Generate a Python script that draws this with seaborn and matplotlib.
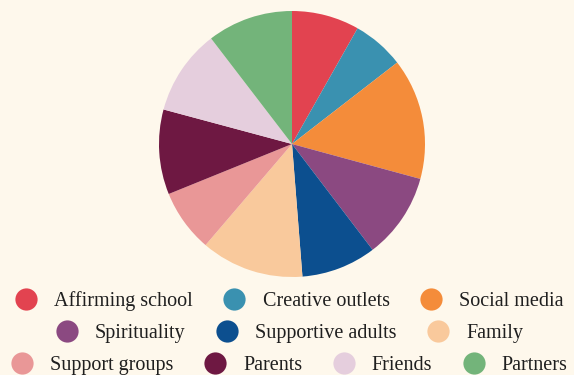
import matplotlib
matplotlib.use("Agg")
import matplotlib.pyplot as plt
from matplotlib.lines import Line2D
import seaborn as sns

categories = ["Affirming school", "Creative outlets", "Social media", "Spirituality",
              "Supportive adults", "Family", "Support groups", "Parents", "Friends", "Partners"]
values = [8.2, 6.3, 14.7, 10.4, 9.1, 12.5, 7.6, 10.3, 10.4, 10.4]
colors = ["#e24350", "#3a91b0", "#f48c3a", "#8b4981", "#0c4f8f",
          "#f9c99c", "#e99797", "#6e1842", "#e5cedd", "#73b47a"]
legend_rows = [[0, 1, 2], [3, 4, 5], [6, 7, 8, 9]]

BG = "#fef8ec"
sns.set_theme(style="white")
plt.rcParams["font.family"] = ["Liberation Serif", "DejaVu Serif"]
palette = sns.color_palette(colors)

W, H = 574, 375
fig = plt.figure(figsize=(W / 100, H / 100), dpi=100, facecolor=BG)
cx, cy, r = 292, 144, 133
ax = fig.add_axes([(cx - r) / W, (H - cy - r) / H, 2 * r / W, 2 * r / H])
ax.set_facecolor(BG)
ax.pie(values, colors=palette, startangle=90, counterclock=False,
       wedgeprops=dict(linewidth=0))
ax.set_xlim(-1, 1)
ax.set_ylim(-1, 1)
ax.set_aspect("equal")
ax.axis("off")

row_y = [301, 333, 365]
for row, yy in zip(legend_rows, row_y):
    handles = [Line2D([], [], linestyle="none", marker="o", markersize=16,
                      markerfacecolor=palette[i], markeredgewidth=0) for i in row]
    labels = [categories[i] for i in row]
    fig.legend(handles, labels, loc="center", bbox_to_anchor=(0.505, 1 - yy / H),
               ncol=len(row), frameon=False, fontsize=14.5, handlelength=1.0,
               handletextpad=0.9, columnspacing=1.55, borderpad=0,
               labelcolor="#1f1f1f")

fig.savefig("out.png", dpi=100, facecolor=BG)
